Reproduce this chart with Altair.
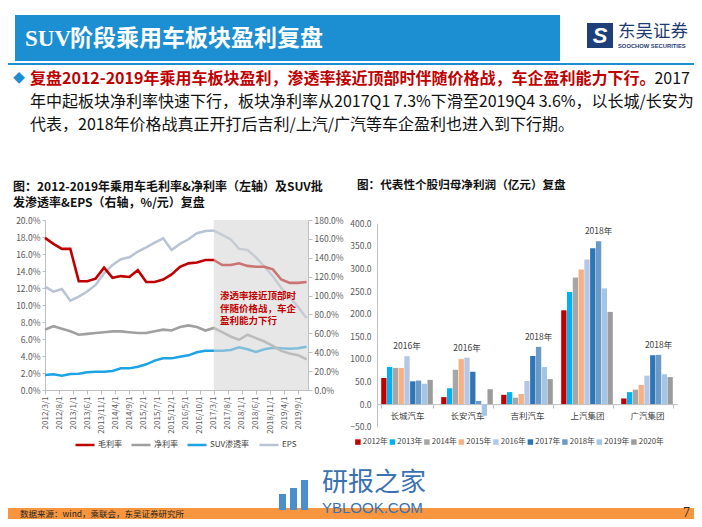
import altair as alt
import pandas as pd

FONT = "Noto Sans CJK SC"
W, H = 686, 511

# ---------------- data ----------------
quarters = ["2012/3", "2012/6", "2012/9", "2012/12", "2013/3", "2013/6", "2013/9", "2013/12",
            "2014/3", "2014/6", "2014/9", "2014/12", "2015/3", "2015/6", "2015/9", "2015/12",
            "2016/3", "2016/6", "2016/9", "2016/12", "2017/3", "2017/6", "2017/9", "2017/12",
            "2018/3", "2018/6", "2018/9", "2018/12", "2019/3", "2019/6", "2019/9", "2019/12"]
gross_margin = [17.9, 17.2, 16.6, 16.6, 12.8, 12.8, 13.1, 14.4, 13.2, 13.4, 13.3, 14.1,
                12.7, 12.7, 13.0, 13.6, 14.5, 14.9, 15.0, 15.3, 15.3, 14.7, 14.7, 14.9,
                14.6, 14.5, 14.5, 14.2, 13.0, 12.6, 12.6, 12.7]
net_margin = [7.1, 7.5, 7.2, 6.9, 6.5, 6.6, 6.7, 6.8, 6.9, 6.9, 6.8, 6.7,
              6.7, 6.9, 7.1, 7.0, 7.4, 7.6, 7.4, 7.0, 7.3, 6.8, 6.3, 5.9,
              6.5, 6.1, 5.7, 5.2, 4.6, 4.3, 4.1, 3.6]
suv_share = [15.9, 16.6, 15.2, 17.0, 17.3, 18.7, 19.4, 19.4, 20.1, 22.9, 22.9, 24.7,
             27.2, 31.1, 33.5, 33.5, 35.3, 36.7, 39.9, 41.6, 41.6, 41.6, 42.4, 45.2,
             43.1, 40.3, 43.1, 44.8, 44.1, 43.8, 44.1, 45.9]
eps = [109.4, 104.2, 107.0, 94.6, 98.8, 104.2, 111.2, 123.6, 132.4, 138.4, 140.5, 146.5,
       151.1, 156.0, 160.6, 148.3, 154.7, 159.6, 166.0, 168.4, 168.8, 164.2, 159.6, 149.4,
       148.3, 140.5, 130.6, 120.5, 108.0, 98.0, 88.0, 76.0]
series_names = ["毛利率", "净利率", "SUV渗透率", "EPS"]
series_colors = ["#C00000", "#A0A0A0", "#1CA3E3", "#B8C4D4"]
shade_start = "2017/3"

companies = ["长城汽车", "长安汽车", "吉利汽车", "上汽集团", "广汽集团"]
years = ["2012年", "2013年", "2014年", "2015年", "2016年", "2017年", "2018年", "2019年", "2020年"]
profit_gw = [57.8, 82.2, 80.0, 80.0, 106.0, 50.4, 52.0, 45.0, 53.6]
profit_ca = [15.5, 35.0, 76.0, 99.5, 102.8, 71.5, 7.0, -26.0, 33.0]
profit_jl = [20.5, 26.5, 14.2, 22.6, 51.1, 106.5, 126.7, 82.0, 55.3]
profit_sq = [207.5, 248.0, 280.0, 298.0, 320.0, 344.8, 360.3, 256.0, 204.0]
profit_gq = [12.5, 26.5, 32.0, 42.5, 62.9, 108.1, 109.0, 66.0, 59.8]
peak_years = ["2016年", "2016年", "2018年", "2018年", "2018年"]
year_colors = ["#C00000", "#00B0F0", "#A6A6A6", "#F4B183", "#B4C7E7",
               "#2E75B6", "#6A9BC8", "#A3C6E6", "#9C9C9C"]

headline = "SUV阶段乘用车板块盈利复盘"
bullet_red = "复盘2012-2019年乘用车板块盈利，渗透率接近顶部时伴随价格战，车企盈利能力下行。"
bullet_line1_end = "2017"
bullet_line2 = "年中起板块净利率快速下行，板块净利率从2017Q1 7.3%下滑至2019Q4 3.6%，以长城/长安为"
bullet_line3 = "代表，2018年价格战真正开打后吉利/上汽/广汽等车企盈利也进入到下行期。"
left_title1 = "图：2012-2019年乘用车毛利率&净利率（左轴）及SUV批"
left_title2 = "发渗透率&EPS（右轴，%/元）复盘"
right_title = "图：代表性个股归母净利润（亿元）复盘"
note_lines = ["渗透率接近顶部时", "伴随价格战，车企", "盈利能力下行"]
source_text = "数据来源：wind，乘联会，东吴证券研究所"
page_no = "7"


def month_index(q):
    y, m = q.split("/")
    return (int(y) - 2012) * 12 + int(m) - 3


# ---------------- frames ----------------
rows = []
for name, vals in zip(series_names, [gross_margin, net_margin, suv_share, eps]):
    for q, v in zip(quarters, vals):
        rows.append({"series": name, "m": month_index(q), "v": v})
df_line = pd.DataFrame(rows)

profits = [profit_gw, profit_ca, profit_jl, profit_sq, profit_gq]
brows = []
for c, vals in zip(companies, profits):
    for yname, v in zip(years, vals):
        brows.append({"company": c, "year": yname, "value": v})
df_bar = pd.DataFrame(brows)
df_note = pd.DataFrame([
    {"company": c, "year": py, "value": vals[years.index(py)], "label": py}
    for c, vals, py in zip(companies, profits, peak_years)
])

# ---------------- geometry (view pixels) ----------------
LX0, LX1 = 37, 300
LY0, LY1 = 382, 212
BX0, BX1 = 369, 669
BY0, BY1 = 418.7, 215.3
B_ZERO = BY0 - (0 - (-50)) / 450 * (BY0 - BY1)

AX = dict(labelColor="#595959", domainColor="#BFBFBF", tickColor="#BFBFBF",
          grid=False, labelFont=FONT)


def label(s, x, y, size, color, weight="normal", align="left", font=FONT, baseline="middle", italic=False):
    kw = dict(align=align, baseline=baseline, font=font, fontSize=size, fontWeight=weight, color=color)
    if italic:
        kw["fontStyle"] = "italic"
    return alt.Chart(pd.DataFrame({"t": [s]})).mark_text(**kw).encode(
        x=alt.value(x), y=alt.value(y), text="t:N")


def box(x0, x1, y0, y1, color, opacity=1.0):
    return alt.Chart(pd.DataFrame({"a": [0]})).mark_rect(color=color, opacity=opacity).encode(
        x=alt.value(x0), x2=alt.value(x1), y=alt.value(y0), y2=alt.value(y1))


# ---------------- left: line chart ----------------
x_line = alt.X("m:Q", title=None,
               scale=alt.Scale(domain=[0, 93.5], range=[LX0, LX1], nice=False, zero=False),
               axis=alt.Axis(orient="bottom", offset=-(H - LY0), values=list(range(0, 91, 5)),
                             labelExpr="(2012 + floor((datum.value + 2) / 12)) + '/' + ((datum.value + 2) % 12 + 1) + '/1'",
                             labelAngle=270, labelFontSize=8, tickSize=4, labelPadding=2,
                             labelOverlap=False, labelBound=False, labelFlush=False, **AX))
color_line = alt.Color("series:N",
                       scale=alt.Scale(domain=series_names, range=series_colors),
                       legend=alt.Legend(title=None, orient="none", legendX=66, legendY=426,
                                         direction="horizontal", symbolType="stroke", symbolSize=361,
                                         symbolStrokeWidth=2.5, labelFontSize=8, labelColor="#404040",
                                         labelFont=FONT, columnPadding=4, labelOffset=2))

right_lines = alt.Chart(df_line).transform_filter(
    alt.FieldOneOfPredicate(field="series", oneOf=series_names[2:])
).mark_line(strokeWidth=2.5).encode(
    x=x_line,
    y=alt.Y("v:Q", title=None,
            scale=alt.Scale(domain=[0, 180], range=[LY0, LY1], nice=False),
            axis=alt.Axis(orient="right", offset=-(W - LX1), values=list(range(0, 181, 20)),
                          labelExpr="format(datum.value, '.1f') + '%'", labelFontSize=8.5,
                          tickSize=4, labelPadding=2, **AX)),
    color=color_line,
)
left_lines = alt.Chart(df_line).transform_filter(
    alt.FieldOneOfPredicate(field="series", oneOf=series_names[:2])
).mark_line(strokeWidth=2.6).encode(
    x=x_line,
    y=alt.Y("v:Q", title=None,
            scale=alt.Scale(domain=[0, 20], range=[LY0, LY1], nice=False),
            axis=alt.Axis(orient="left", offset=-LX0, values=list(range(0, 21, 2)),
                          labelExpr="format(datum.value, '.1f') + '%'", labelFontSize=8.5,
                          tickSize=3, labelPadding=2, **AX)),
    color=color_line,
)
shade = alt.Chart(pd.DataFrame({"m": [month_index(shade_start)], "m2": [93.5]})).mark_rect(
    color="#D3D3D3", opacity=0.55
).encode(x=x_line, x2="m2:Q", y=alt.value(LY1), y2=alt.value(LY0))

left_chart = alt.layer(right_lines, left_lines, shade).resolve_scale(y="independent")

# ---------------- right: bar chart ----------------
x_bar = alt.X("company:N", sort=companies, title=None,
              scale=alt.Scale(domain=companies, range=[BX0, BX1], paddingInner=0.14, paddingOuter=0.07),
              axis=alt.Axis(orient="bottom", offset=-(H - B_ZERO), labelAngle=0, tickBand="extent",
                            tickSize=4, labelPadding=3, labelFontSize=8.5, **{**AX, "labelColor": "#404040"}))
xoff_bar = alt.XOffset("year:N", sort=years, scale=alt.Scale(domain=years, paddingInner=0.08))
y_bar = alt.Y("value:Q", title=None,
              scale=alt.Scale(domain=[-50, 400], range=[BY0, BY1], nice=False),
              axis=alt.Axis(orient="left", offset=-BX0, values=list(range(-50, 401, 50)), format=".1f",
                            tickSize=0, labelPadding=6, labelFontSize=8.5, **AX))
bars = alt.Chart(df_bar).mark_bar().encode(
    x=x_bar, xOffset=xoff_bar, y=y_bar, y2=alt.datum(0),
    color=alt.Color("year:N", sort=years,
                    scale=alt.Scale(domain=years, range=year_colors),
                    legend=alt.Legend(title=None, orient="none", legendX=346, legendY=430,
                                      direction="horizontal", symbolType="square", symbolSize=30,
                                      labelFontSize=7.8, labelColor="#404040", labelFont=FONT,
                                      columnPadding=0.5, labelOffset=1)),
)
notes = alt.Chart(df_note).mark_text(baseline="bottom", dy=-5, fontSize=8.5, font=FONT,
                                      color="#404040").encode(
    x=alt.X("company:N", sort=companies), xOffset=alt.XOffset("year:N", sort=years),
    y="value:Q", text="label:N")
bar_chart = alt.layer(bars, notes)

# ---------------- slide decoration ----------------
deco = [
    box(7, 552, 7, 53, "#1B8FD2"),
    label("SUV", 17, 31, 23, "white", weight="bold", font="Liberation Serif"),
    label(headline[3:], 62, 31, 23, "white", weight="bold"),
    box(0, W, 55, 57, "#1B8FD2"),
    box(579, 605, 15, 40, "#1F3F7A"),
    label("S", 592, 28, 22, "white", weight="bold", align="center", font="Liberation Sans", italic=True),
    label("东吴证券", 610, 24, 17.5, "#1F3B73"),
    label("SOOCHOW SECURITIES", 610, 38, 5.8, "#1F3B73", weight="bold", font="Liberation Sans"),
    label("◆", 11, 71, 12, "#1B8FD2", align="center"),
    label(bullet_red, 22, 71, 16, "#C00000", weight="bold"),
    label(bullet_line1_end, 682, 71, 16, "#111111", align="right"),
    label(bullet_line2, 22, 94, 16, "#111111"),
    label(bullet_line3, 22, 117, 16, "#111111"),
    label(left_title1, 5, 179, 12, "#111111", weight="bold"),
    label(left_title2, 5, 195, 12, "#111111", weight="bold"),
    label(right_title, 349, 178, 11.6, "#111111", weight="bold"),
]
annot = [label(s, 212, 288 + 12.5 * i, 9.5, "#C00000", weight="bold") for i, s in enumerate(note_lines)]
footer = [
    box(0, W, 500, 511, "#F7963F"),
    label(source_text, 12, 505.5, 8.5, "#262626"),
    label(page_no, 682, 505, 14, "#262626", align="right", font="Liberation Serif"),
    box(271, 278, 486, 502, "#4A8FCB"),
    box(282, 289, 480, 502, "#4A8FCB"),
    box(293, 300, 472, 502, "#4A8FCB"),
    label("研报之家", 314, 475, 26, "#3A72B0"),
    label("YBLOOK.COM", 314, 500, 15, "#3A72B0", font="Liberation Sans"),
]

chart = alt.layer(*deco, left_chart, *annot, bar_chart, *footer).resolve_scale(
    x="independent", y="independent", color="independent"
).properties(
    width=W, height=H, autosize=alt.AutoSizeParams(type="none"), padding=0
).configure_view(strokeWidth=0).configure_axis(labelFont=FONT, grid=False).configure_legend(labelFont=FONT)

chart.save("out.html", embed_options={"renderer": "svg", "actions": False})
